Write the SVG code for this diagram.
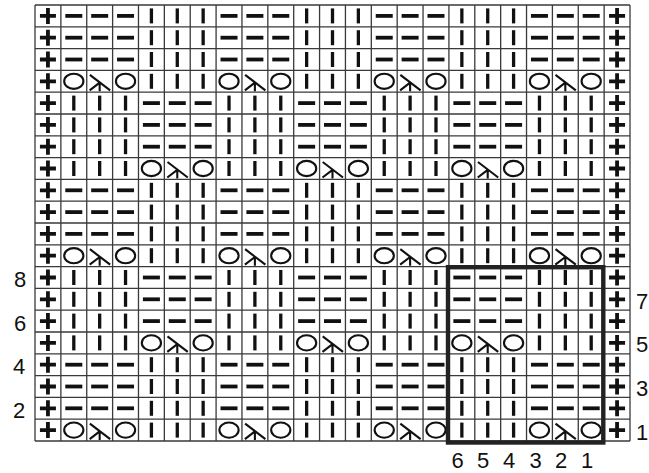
<svg xmlns="http://www.w3.org/2000/svg" width="649" height="473" viewBox="0 0 649 473">
<style>
.sym{fill:none;stroke:#111;stroke-linecap:butt}
.thick{stroke-width:3.8}
.bar{stroke-width:3.3}
.thin{stroke-width:2.1}
.grid{fill:none;stroke:#3a3a3a;stroke-width:1.3}
.box{fill:none;stroke:#222;stroke-width:4.4}
.lbl{font-family:"Liberation Sans",Arial,sans-serif;font-size:22px;fill:#111;text-anchor:middle}
</style>
<defs>
<path id="p" class="sym thick" d="M-8,0H8M0,-8V8"/>
<path id="d" class="sym thick" d="M-8.5,0H8.5"/>
<path id="b" class="sym bar" d="M0,-7.5V7.5"/>
<ellipse id="o" class="sym thin" cx="0" cy="0" rx="9.6" ry="7.6"/>
<path id="k" class="sym thin" d="M-9.8,-6.5L10.5,9M0,1.3V10M0,1.3L-10,9"/>
<g id="rowA">
<use href="#p" x="47.94"/>
<use href="#d" x="73.80"/><use href="#d" x="99.67"/><use href="#d" x="125.54"/>
<use href="#b" x="151.41"/><use href="#b" x="177.28"/><use href="#b" x="203.15"/>
<use href="#d" x="229.02"/><use href="#d" x="254.89"/><use href="#d" x="280.76"/>
<use href="#b" x="306.63"/><use href="#b" x="332.50"/><use href="#b" x="358.37"/>
<use href="#d" x="384.24"/><use href="#d" x="410.11"/><use href="#d" x="435.98"/>
<use href="#b" x="461.85"/><use href="#b" x="487.72"/><use href="#b" x="513.59"/>
<use href="#d" x="539.46"/><use href="#d" x="565.33"/><use href="#d" x="591.20"/>
<use href="#p" x="617.07"/>
</g>
<g id="rowB">
<use href="#p" x="47.94"/>
<use href="#o" x="73.80"/><use href="#k" x="99.67"/><use href="#o" x="125.54"/>
<use href="#b" x="151.41"/><use href="#b" x="177.28"/><use href="#b" x="203.15"/>
<use href="#o" x="229.02"/><use href="#k" x="254.89"/><use href="#o" x="280.76"/>
<use href="#b" x="306.63"/><use href="#b" x="332.50"/><use href="#b" x="358.37"/>
<use href="#o" x="384.24"/><use href="#k" x="410.11"/><use href="#o" x="435.98"/>
<use href="#b" x="461.85"/><use href="#b" x="487.72"/><use href="#b" x="513.59"/>
<use href="#o" x="539.46"/><use href="#k" x="565.33"/><use href="#o" x="591.20"/>
<use href="#p" x="617.07"/>
</g>
<g id="rowC">
<use href="#p" x="47.94"/>
<use href="#b" x="73.80"/><use href="#b" x="99.67"/><use href="#b" x="125.54"/>
<use href="#d" x="151.41"/><use href="#d" x="177.28"/><use href="#d" x="203.15"/>
<use href="#b" x="229.02"/><use href="#b" x="254.89"/><use href="#b" x="280.76"/>
<use href="#d" x="306.63"/><use href="#d" x="332.50"/><use href="#d" x="358.37"/>
<use href="#b" x="384.24"/><use href="#b" x="410.11"/><use href="#b" x="435.98"/>
<use href="#d" x="461.85"/><use href="#d" x="487.72"/><use href="#d" x="513.59"/>
<use href="#b" x="539.46"/><use href="#b" x="565.33"/><use href="#b" x="591.20"/>
<use href="#p" x="617.07"/>
</g>
<g id="rowD">
<use href="#p" x="47.94"/>
<use href="#b" x="73.80"/><use href="#b" x="99.67"/><use href="#b" x="125.54"/>
<use href="#o" x="151.41"/><use href="#k" x="177.28"/><use href="#o" x="203.15"/>
<use href="#b" x="229.02"/><use href="#b" x="254.89"/><use href="#b" x="280.76"/>
<use href="#o" x="306.63"/><use href="#k" x="332.50"/><use href="#o" x="358.37"/>
<use href="#b" x="384.24"/><use href="#b" x="410.11"/><use href="#b" x="435.98"/>
<use href="#o" x="461.85"/><use href="#k" x="487.72"/><use href="#o" x="513.59"/>
<use href="#b" x="539.46"/><use href="#b" x="565.33"/><use href="#b" x="591.20"/>
<use href="#p" x="617.07"/>
</g>
</defs>
<rect width="649" height="473" fill="#fff"/>
<g id="grid">
<path class="grid" d="M35,5V441M60.87,5V441M86.74,5V441M112.61,5V441M138.48,5V441M164.35,5V441M190.22,5V441M216.09,5V441M241.96,5V441M267.83,5V441M293.7,5V441M319.57,5V441M345.44,5V441M371.31,5V441M397.18,5V441M423.05,5V441M448.92,5V441M474.79,5V441M500.66,5V441M526.53,5V441M552.4,5V441M578.27,5V441M604.14,5V441M630,5V441"/>
<path class="grid" d="M35,5H630M35,26.8H630M35,48.6H630M35,70.4H630M35,92.2H630M35,114H630M35,135.8H630M35,157.6H630M35,179.4H630M35,201.2H630M35,223H630M35,244.8H630M35,266.6H630M35,288.4H630M35,310.2H630M35,332H630M35,353.8H630M35,375.6H630M35,397.4H630M35,419.2H630M35,441H630"/>
</g>
<g id="stitches">
<use href="#rowA" y="15.9"/>
<use href="#rowA" y="37.7"/>
<use href="#rowA" y="59.5"/>
<use href="#rowB" y="81.3"/>
<use href="#rowC" y="103.1"/>
<use href="#rowC" y="124.9"/>
<use href="#rowC" y="146.7"/>
<use href="#rowD" y="168.5"/>
<use href="#rowA" y="190.3"/>
<use href="#rowA" y="212.1"/>
<use href="#rowA" y="233.9"/>
<use href="#rowB" y="255.7"/>
<use href="#rowC" y="277.5"/>
<use href="#rowC" y="299.3"/>
<use href="#rowC" y="321.1"/>
<use href="#rowD" y="342.9"/>
<use href="#rowA" y="364.7"/>
<use href="#rowA" y="386.5"/>
<use href="#rowA" y="408.3"/>
<use href="#rowB" y="430.1"/>
</g>
<rect id="repeat" class="box" x="448" y="267.2" width="155.3" height="175.3"/>
<g id="labels">
<text class="lbl" x="20" y="287">8</text>
<text class="lbl" x="20" y="330.6">6</text>
<text class="lbl" x="19" y="374.2">4</text>
<text class="lbl" x="19" y="417.8">2</text>
<text class="lbl" x="642" y="308.8">7</text>
<text class="lbl" x="642" y="352.4">5</text>
<text class="lbl" x="642" y="396">3</text>
<text class="lbl" x="642" y="439.6">1</text>
<text class="lbl" x="457.5" y="468">6</text>
<text class="lbl" x="483" y="468">5</text>
<text class="lbl" x="509" y="468">4</text>
<text class="lbl" x="535.5" y="468">3</text>
<text class="lbl" x="561" y="468">2</text>
<text class="lbl" x="587" y="468">1</text>
</g>
</svg>
